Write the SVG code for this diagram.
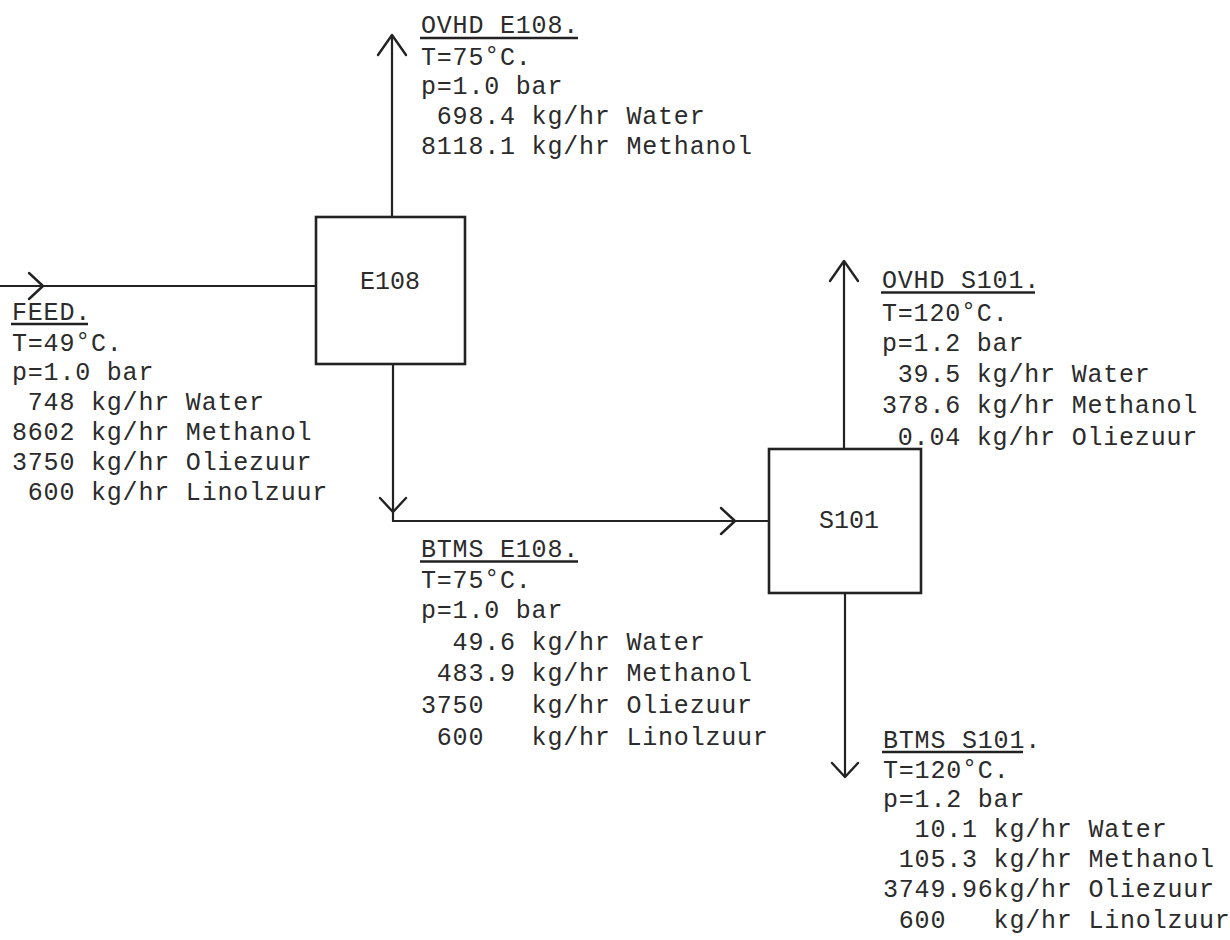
<svg xmlns="http://www.w3.org/2000/svg" width="1230" height="940" viewBox="0 0 1230 940" xml:space="preserve">
<style>
.t{font-family:"Liberation Mono","DejaVu Sans Mono",monospace;font-size:25px;letter-spacing:0.8px;fill:#2b2b2b;white-space:pre}
.c{text-anchor:middle;letter-spacing:0}
.box{fill:none;stroke:#222;stroke-width:2.6}
.ln{fill:none;stroke:#222;stroke-width:2.2}
.ul{stroke:#222;stroke-width:2.6}
</style>
<defs>
<marker id="chev" viewBox="-16 -15 20 30" refX="0" refY="0" markerWidth="20" markerHeight="30" markerUnits="userSpaceOnUse" orient="auto" overflow="visible">
<path d="M-14,-13 L0,0 L-14,13" fill="none" stroke="#222" stroke-width="2.4" stroke-linejoin="round" stroke-linecap="round"/>
</marker>
<marker id="chevL" viewBox="-22 -16 24 32" refX="0" refY="0" markerWidth="24" markerHeight="32" markerUnits="userSpaceOnUse" orient="auto" overflow="visible">
<path d="M-20,-14 L0,0 L-20,14" fill="none" stroke="#222" stroke-width="2.4" stroke-linejoin="round" stroke-linecap="round"/>
</marker>
</defs>
<rect width="1230" height="940" fill="#fff"/>

<g id="connectors">
<path id="feed" class="ln" d="M0,286 L43,286 L316,286" marker-mid="url(#chev)"/>
<path id="ovhd-e108" class="ln" d="M392,217 L392,35" marker-end="url(#chevL)"/>
<path id="btms-e108-a" class="ln" d="M393,364 L393,512 L393,521" marker-mid="url(#chev)"/>
<path id="btms-e108-b" class="ln" d="M392,521 L735,521 L769,521" marker-mid="url(#chev)"/>
<path id="ovhd-s101" class="ln" d="M844,449 L844,261" marker-end="url(#chevL)"/>
<path id="btms-s101" class="ln" d="M845,593 L845,777" marker-end="url(#chev)"/>
</g>

<g id="E108">
<rect class="box" x="316" y="217" width="149" height="147"/>
<text class="t c" x="390" y="289">E108</text>
</g>

<g id="S101">
<rect class="box" x="769" y="449" width="152" height="144"/>
<text class="t c" x="849" y="528">S101</text>
</g>

<g id="label-feed">
<text class="t" x="12" y="320">FEED.</text>
<line class="ul" x1="11" y1="324" x2="88" y2="324"/>
<text class="t" x="12" y="351">T=49<tspan dy="-2">°</tspan><tspan dy="2">C.</tspan></text>
<text class="t" x="12" y="380">p=1.0 bar</text>
<text class="t" x="12" y="410"> 748 kg/hr Water</text>
<text class="t" x="12" y="440">8602 kg/hr Methanol</text>
<text class="t" x="12" y="470">3750 kg/hr Oliezuur</text>
<text class="t" x="12" y="500"> 600 kg/hr Linolzuur</text>
</g>

<g id="label-ovhd-e108">
<text class="t" x="421" y="33">OVHD E108.</text>
<line class="ul" x1="420" y1="38" x2="578" y2="38"/>
<text class="t" x="421" y="65">T=75<tspan dy="-2">°</tspan><tspan dy="2">C.</tspan></text>
<text class="t" x="421" y="94">p=1.0 bar</text>
<text class="t" x="421" y="124"> 698.4 kg/hr Water</text>
<text class="t" x="421" y="154">8118.1 kg/hr Methanol</text>
</g>

<g id="label-btms-e108">
<text class="t" x="421" y="557">BTMS E108.</text>
<line class="ul" x1="420" y1="561.5" x2="578" y2="561.5"/>
<text class="t" x="421" y="588">T=75<tspan dy="-2">°</tspan><tspan dy="2">C.</tspan></text>
<text class="t" x="421" y="618">p=1.0 bar</text>
<text class="t" x="421" y="650">  49.6 kg/hr Water</text>
<text class="t" x="421" y="681"> 483.9 kg/hr Methanol</text>
<text class="t" x="421" y="713">3750   kg/hr Oliezuur</text>
<text class="t" x="421" y="745"> 600   kg/hr Linolzuur</text>
</g>

<g id="label-ovhd-s101">
<text class="t" x="882" y="288">OVHD S101.</text>
<line class="ul" x1="881" y1="292.5" x2="1035" y2="292.5"/>
<text class="t" x="882" y="321">T=120<tspan dy="-2">°</tspan><tspan dy="2">C.</tspan></text>
<text class="t" x="882" y="351">p=1.2 bar</text>
<text class="t" x="882" y="382"> 39.5 kg/hr Water</text>
<text class="t" x="882" y="413">378.6 kg/hr Methanol</text>
<text class="t" x="882" y="445"> 0.04 kg/hr Oliezuur</text>
</g>

<g id="label-btms-s101">
<text class="t" x="883" y="748">BTMS S101.</text>
<line class="ul" x1="882" y1="752" x2="1023" y2="752"/>
<text class="t" x="883" y="778">T=120<tspan dy="-2">°</tspan><tspan dy="2">C.</tspan></text>
<text class="t" x="883" y="807">p=1.2 bar</text>
<text class="t" x="883" y="837">  10.1 kg/hr Water</text>
<text class="t" x="883" y="867"> 105.3 kg/hr Methanol</text>
<text class="t" x="883" y="897">3749.96kg/hr Oliezuur</text>
<text class="t" x="883" y="928"> 600   kg/hr Linolzuur</text>
</g>
</svg>
